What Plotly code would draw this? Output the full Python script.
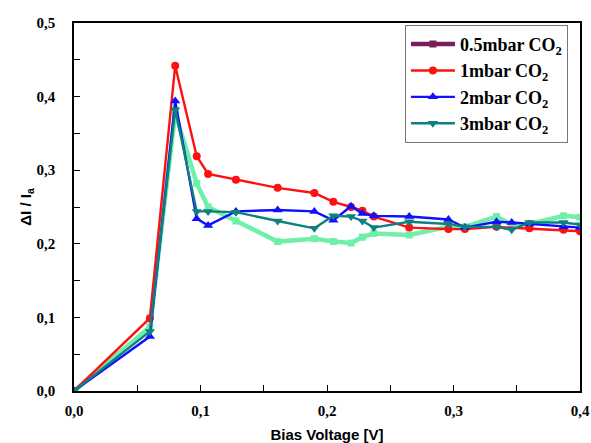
import plotly.graph_objects as go

# Bias voltage [V] for each series
x_05 = [0, 0.06, 0.08, 0.097, 0.106, 0.128, 0.161, 0.19, 0.205, 0.219, 0.228, 0.237, 0.265, 0.296, 0.309, 0.334, 0.346, 0.36, 0.387, 0.4]
y_05 = [0, 0.087, 0.378, 0.282, 0.250, 0.231, 0.203, 0.207, 0.203, 0.201, 0.209, 0.214, 0.212, 0.223, 0.223, 0.237, 0.226, 0.227, 0.238, 0.236]

x_1 = [0, 0.06, 0.08, 0.097, 0.106, 0.128, 0.161, 0.19, 0.205, 0.219, 0.228, 0.237, 0.265, 0.296, 0.309, 0.334, 0.36, 0.387, 0.4]
y_1 = [0, 0.099, 0.442, 0.319, 0.295, 0.287, 0.276, 0.269, 0.257, 0.250, 0.245, 0.237, 0.222, 0.220, 0.220, 0.223, 0.221, 0.219, 0.217]

x_2 = [0, 0.06, 0.08, 0.097, 0.106, 0.128, 0.161, 0.19, 0.205, 0.219, 0.228, 0.237, 0.265, 0.296, 0.309, 0.334, 0.346, 0.36, 0.387, 0.4]
y_2 = [0, 0.074, 0.394, 0.234, 0.225, 0.244, 0.246, 0.244, 0.232, 0.251, 0.241, 0.238, 0.237, 0.233, 0.222, 0.230, 0.229, 0.227, 0.223, 0.222]

x_3 = [0, 0.06, 0.08, 0.097, 0.106, 0.128, 0.161, 0.19, 0.205, 0.219, 0.228, 0.237, 0.265, 0.296, 0.309, 0.334, 0.346, 0.36, 0.387, 0.4]
y_3 = [0, 0.081, 0.382, 0.244, 0.244, 0.243, 0.231, 0.221, 0.238, 0.237, 0.231, 0.222, 0.230, 0.227, 0.223, 0.223, 0.219, 0.229, 0.229, 0.226]

names = ["<b>0.5mbar CO<sub>2</sub></b>", "<b>1mbar CO<sub>2</sub></b>",
         "<b>2mbar CO<sub>2</sub></b>", "<b>3mbar CO<sub>2</sub></b>"]

fig = go.Figure()

# 0.5 mbar data (drawn light green, legend entry shown in maroon as in original)
fig.add_trace(go.Scatter(x=x_05, y=y_05, mode="lines+markers", showlegend=False,
                         line=dict(color="#6fefaa", width=4.5),
                         marker=dict(symbol="square", size=7, color="#6fefaa")))
fig.add_trace(go.Scatter(x=[None], y=[None], mode="lines+markers", name=names[0],
                         line=dict(color="#7a1e5c", width=4.5),
                         marker=dict(symbol="square", size=7, color="#7a1e5c")))
fig.add_trace(go.Scatter(x=x_1, y=y_1, mode="lines+markers", name=names[1],
                         line=dict(color="#ff1010", width=2.4),
                         marker=dict(symbol="circle", size=8, color="#ff1010")))
fig.add_trace(go.Scatter(x=x_2, y=y_2, mode="lines+markers", name=names[2],
                         line=dict(color="#1010ff", width=2.4),
                         marker=dict(symbol="triangle-up", size=9, color="#1010ff")))
fig.add_trace(go.Scatter(x=x_3, y=y_3, mode="lines+markers", name=names[3],
                         line=dict(color="#0e8080", width=2.4),
                         marker=dict(symbol="triangle-down", size=9, color="#0e8080")))

tickfont = dict(family="Liberation Serif", size=15, color="black", weight="bold")

fig.update_layout(
    width=591, height=443,
    margin=dict(l=74, r=11, t=23, b=52),
    paper_bgcolor="white", plot_bgcolor="white",
    separators=",.",
    showlegend=True,
    legend=dict(x=0.654, y=0.995, xanchor="left", yanchor="top",
                bordercolor="#777777", borderwidth=1, bgcolor="white",
                font=dict(family="Liberation Serif", size=18, color="black"),
                tracegroupgap=0, itemwidth=44),
    xaxis=dict(range=[0, 0.4], dtick=0.1, tickformat=".1f", automargin=False,
               showgrid=False, zeroline=False,
               showline=True, linecolor="black", linewidth=1.5, mirror=True,
               ticks="inside", ticklen=6, tickcolor="black", ticklabelstandoff=5,
               minor=dict(dtick=0.05, ticks="inside", ticklen=6, tickcolor="black"),
               tickfont=tickfont,
               title=dict(text="<b>Bias Voltage [V]</b>", standoff=15,
                          font=dict(family="Liberation Sans", size=15, color="black"))),
    yaxis=dict(range=[0, 0.5], dtick=0.1, tickformat=".1f", automargin=False,
               showgrid=False, zeroline=False,
               showline=True, linecolor="black", linewidth=1.5, mirror=True,
               ticks="inside", ticklen=6, tickcolor="black", ticklabelstandoff=14,
               minor=dict(dtick=0.05, ticks="inside", ticklen=6, tickcolor="black"),
               tickfont=tickfont,
               title=dict(text="<b>ΔI / I<sub>a</sub></b>", standoff=1,
                          font=dict(family="Liberation Sans", size=15, color="black"))),
)

fig.write_html(
    "out.html",
    config={"displayModeBar": False},
    post_script="document.body.style.margin='0';document.body.style.overflow='hidden';",
)
